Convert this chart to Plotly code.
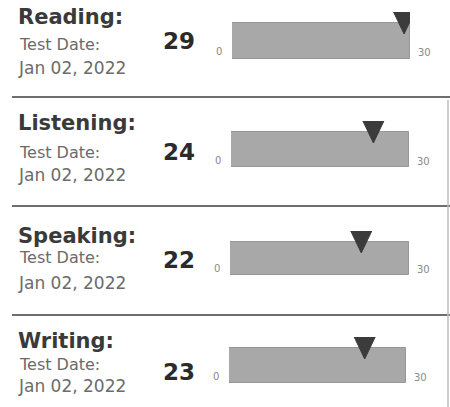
import plotly.graph_objects as go

# Section scores on the 0-30 scale
sections = ["Reading:", "Listening:", "Speaking:", "Writing:"]
scores = [29, 24, 22, 23]
scale_min = 0
scale_max = 30
date_label = "Test Date:"
test_dates = ["Jan 02, 2022", "Jan 02, 2022", "Jan 02, 2022", "Jan 02, 2022"]

W, H = 450, 407

# Pixel layout of each row: bar left/right/top/bottom, text centres
rows = [
    dict(l=232, r=410, t=23, b=59, title=17, date=44, jan=68, score=41),
    dict(l=231, r=409, t=132, b=167, title=123, date=152, jan=175, score=152),
    dict(l=230, r=409, t=242, b=275, title=236, date=257, jan=283, score=260),
    dict(l=229, r=406, t=348, b=383, title=341, date=364, jan=386, score=372),
]
separators = [97, 206, 315]
TRI_UP, TRI_DOWN, TRI_HALF = 11, 11, 10.5

BAR_FILL = "#a8a8a8"
BAR_LINE = "#979797"
MARKER = "#3b3b3b"
TITLE_C = "#3a3a3a"
DATE_C = "#6b6b6b"
SCORE_C = "#2b2b2b"
TICK_C = "#8a8a8a"


def px_x(p):
    return p / W


def px_y(p):
    return 1 - p / H


fig = go.Figure()
annotations = []
shapes = []

for i, (name, score, jan, g) in enumerate(zip(sections, scores, test_dates, rows)):
    n = "" if i == 0 else str(i + 1)
    xa, ya = "x" + n, "y" + n
    h = g["b"] - g["t"]
    y_top = 0.5 + TRI_UP / h
    units_per_px = (scale_max - scale_min) / (g["r"] - g["l"])

    # full-scale grey bar
    fig.add_trace(go.Bar(
        x=[scale_max - scale_min], y=[0], base=[scale_min], orientation="h",
        width=1, marker=dict(color=BAR_FILL, line=dict(color=BAR_LINE, width=1)),
        xaxis=xa, yaxis=ya, hoverinfo="skip", showlegend=False,
    ))
    # score pointer
    half = TRI_HALF * units_per_px
    fig.add_trace(go.Scatter(
        x=[score - half, score + half, score, score - half],
        y=[y_top, y_top, 0.5 - TRI_DOWN / h, y_top],
        mode="lines", fill="toself", fillcolor=MARKER,
        line=dict(color=MARKER, width=1),
        xaxis=xa, yaxis=ya, hoverinfo="skip", showlegend=False,
    ))

    fig.layout["xaxis" + n] = dict(
        domain=[px_x(g["l"]), px_x(g["r"])], range=[scale_min, scale_max],
        visible=False, fixedrange=True, anchor=ya,
    )
    fig.layout["yaxis" + n] = dict(
        domain=[px_y(g["b"]), px_y(g["t"] - TRI_UP)], range=[-0.5, y_top],
        visible=False, fixedrange=True, anchor=xa,
    )

    # scale end labels
    annotations.append(dict(xref=xa, yref=ya, x=scale_min, y=-0.3, text=str(scale_min),
                            xanchor="right", yanchor="middle", xshift=-8, showarrow=False,
                            font=dict(family="DejaVu Sans", size=10, color=TICK_C)))
    annotations.append(dict(xref=xa, yref=ya, x=scale_max, y=-0.33, text=str(scale_max),
                            xanchor="left", yanchor="middle", xshift=6, showarrow=False,
                            font=dict(family="DejaVu Sans", size=10, color=TICK_C)))

    # left text block
    annotations.append(dict(xref="paper", yref="paper", x=px_x(16), y=px_y(g["title"]),
                            text=name, xanchor="left", yanchor="middle", showarrow=False,
                            font=dict(family="DejaVu Sans", size=21, color=TITLE_C, weight="bold")))
    annotations.append(dict(xref="paper", yref="paper", x=px_x(17), y=px_y(g["date"]),
                            text=date_label, xanchor="left", yanchor="middle", showarrow=False,
                            font=dict(family="DejaVu Sans", size=16, color=DATE_C)))
    annotations.append(dict(xref="paper", yref="paper", x=px_x(16), y=px_y(g["jan"]),
                            text=jan, xanchor="left", yanchor="middle", showarrow=False,
                            font=dict(family="DejaVu Sans", size=17, color=DATE_C)))
    annotations.append(dict(xref="paper", yref="paper", x=px_x(179), y=px_y(g["score"]),
                            text=str(score), xanchor="center", yanchor="middle", showarrow=False,
                            font=dict(family="DejaVu Sans", size=23, color=SCORE_C, weight="bold")))

for s in separators:
    shapes.append(dict(type="line", xref="paper", yref="paper",
                       x0=px_x(12), x1=1, y0=px_y(s), y1=px_y(s),
                       line=dict(color="#6e6e6e", width=2)))
shapes.append(dict(type="line", xref="paper", yref="paper",
                   x0=px_x(448), x1=px_x(448), y0=px_y(100), y1=0,
                   line=dict(color="#bdbdbd", width=1.5)))

fig.update_layout(
    width=W, height=H, margin=dict(l=0, r=0, t=0, b=0),
    paper_bgcolor="white", plot_bgcolor="rgba(0,0,0,0)",
    annotations=annotations, shapes=shapes, bargap=0,
)

fig.write_html("out.html", config={"displayModeBar": False})
